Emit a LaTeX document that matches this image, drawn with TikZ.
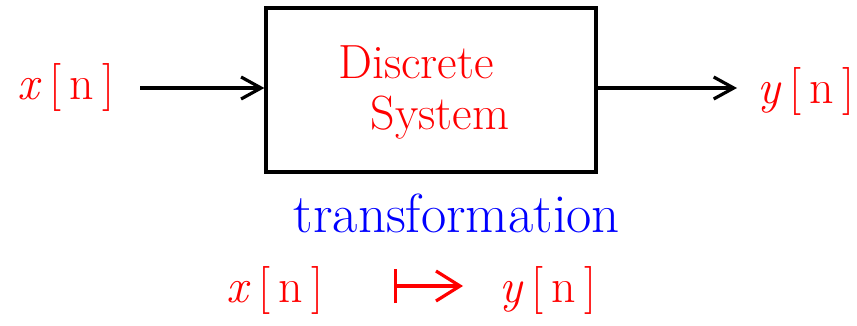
\documentclass[tikz,border=0pt]{standalone}
\usepackage{fontspec}
\usetikzlibrary{arrows.meta}
\tikzset{
  sig/.style={text=red, font=\fontsize{48}{52}\selectfont, inner sep=0pt},
  lbl/.style={text=red, font=\fontsize{48}{52}\selectfont, inner sep=0pt},
  conn/.style={draw=black, line width=3.2pt, -{Straight Barb[length=20pt,width=22pt,line width=3.2pt]}},
  mapconn/.style={draw=red, line width=3.2pt, {Bar[width=34pt,line width=3.2pt]}-{Straight Barb[length=24pt,width=30pt,line width=3.2pt]}}
}
\begin{document}
\begin{tikzpicture}[x=1pt,y=-1pt]
\useasboundingbox (0,0) rectangle (857,326);
\node[draw=black, line width=3.2pt, minimum width=330pt, minimum height=164pt, inner sep=0pt] (sys) at (431,90) {};
\node[lbl] (d1) at (416,62) {Discrete};
\node[lbl] (d2) at (440,118) {System};
\node[sig] (xin) at (66,88) {\textit{x}\,[\,n\,]};
\node[sig] (yout) at (806,92) {\textit{y}\,[\,n\,]};
\coordinate (s) at (140,88);
\coordinate (e) at (737,88);
\draw[conn] (s) -- (sys.west |- s);
\draw[conn] (sys.east |- e) -- (e);
\node[text=blue, font=\fontsize{55}{60}\selectfont, inner sep=0pt] (tr) at (457,213) {transformation};
\node[sig] (xb) at (275,290) {\textit{x}\,[\,n\,]};
\node[sig] (yb) at (548,290) {\textit{y}\,[\,n\,]};
\coordinate (ms) at (394,286);
\coordinate (me) at (463,286);
\draw[mapconn] (ms) -- (me);
\end{tikzpicture}
\end{document}
